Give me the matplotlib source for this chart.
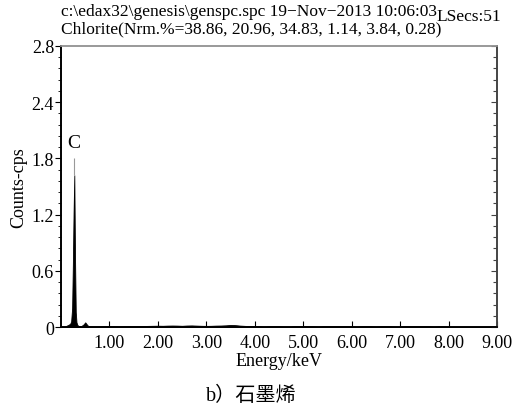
import numpy as np
import matplotlib
matplotlib.use("Agg")
import matplotlib.pyplot as plt
from matplotlib.ticker import MultipleLocator

plt.rcParams['font.family'] = ['Liberation Serif', 'Noto Sans CJK SC']

# spectrum around the carbon peak (keV, cps)
peak_energy = [0.00, 0.08, 0.12, 0.16, 0.19, 0.21, 0.23, 0.245, 0.26, 0.275,
               0.29, 0.305, 0.32, 0.34, 0.37, 0.42, 0.47, 0.50, 0.53, 0.56, 0.59]
peak_counts = [0.00, 0.005, 0.015, 0.025, 0.035, 0.06, 0.20, 0.66, 1.22, 1.62,
               0.74, 0.16, 0.05, 0.02, 0.01, 0.01, 0.03, 0.05, 0.03, 0.012, 0.008]
c_peak_top = 1.80
c_peak_energy = 0.275

# background from 0.6 to 9.0 keV in 0.1 keV steps
bg_counts = [0.006, 0.005, 0.006, 0.008, 0.010, 0.008, 0.006, 0.008, 0.010, 0.008,
             0.010, 0.011, 0.012, 0.013, 0.014, 0.013, 0.015, 0.016, 0.015, 0.013,
             0.016, 0.017, 0.015, 0.013, 0.012, 0.013, 0.015, 0.016, 0.018, 0.022,
             0.020, 0.015, 0.012, 0.010, 0.009, 0.008, 0.000, 0.008, 0.009, 0.008,
             0.000, 0.000, 0.008, 0.009, 0.008, 0.009, 0.008, 0.000, 0.008, 0.009,
             0.009, 0.008, 0.009, 0.008, 0.008, 0.000, 0.008, 0.009, 0.008, 0.000,
             0.008, 0.009, 0.008, 0.000, 0.000, 0.008, 0.009, 0.008, 0.008, 0.009,
             0.008, 0.000, 0.008, 0.006, 0.000, 0.000, 0.000, 0.000, 0.000, 0.000,
             0.000, 0.000, 0.000, 0.000, 0.000]
bg_energy = [0.6 + 0.1 * i for i in range(len(bg_counts))]

x_ticks = [1, 2, 3, 4, 5, 6, 7, 8, 9]
x_labels = ['1.00', '2.00', '3.00', '4.00', '5.00', '6.00', '7.00', '8.00', '9.00']
y_ticks = [0, 0.6, 1.2, 1.8, 2.4, 3.0]
y_labels = ['0', '0.6', '1.2', '1.8', '2.4', '2.8']

energy = np.array(peak_energy + bg_energy)
counts = np.array(peak_counts + bg_counts)

fig = plt.figure(figsize=(5.12, 4.14), dpi=100)
ax = fig.add_axes([0.1191, 0.2077, 0.8516, 0.6788])

ax.fill_between(energy, 0, counts, color='black', linewidth=0.6, edgecolor='black')
ax.vlines(c_peak_energy, peak_counts[9], c_peak_top, color='#999999', linewidth=0.8)
ax.text(c_peak_energy - 0.02, 1.97, 'C', ha='center', va='center', fontsize=14)

ax.set_xlim(0, 9)
ax.set_ylim(0, 3.0)
ax.set_xticks(x_ticks)
ax.set_xticklabels(x_labels, fontsize=13)
ax.set_yticks(y_ticks)
ax.set_yticklabels(y_labels, fontsize=13)
ax.yaxis.set_minor_locator(MultipleLocator(0.12))
ax.tick_params(axis='x', direction='in', length=4, width=0.8, pad=5)
ax.tick_params(axis='y', which='major', direction='out', length=4, width=0.8, pad=1)
ax.tick_params(axis='y', which='minor', direction='out', length=2, width=0.6)

# right-hand scale: inward ticks only
ax_r = ax.twinx()
ax_r.set_ylim(ax.get_ylim())
ax_r.set_yticks(y_ticks)
ax_r.yaxis.set_minor_locator(MultipleLocator(0.12))
ax_r.tick_params(axis='y', which='both', direction='in', labelright=False,
                 color='#444444', width=0.8)
ax_r.tick_params(axis='y', which='major', length=4)
ax_r.tick_params(axis='y', which='minor', length=3)

for a in (ax, ax_r):
    for side, col in [('left', 'black'), ('bottom', 'black'), ('right', '#444444'), ('top', '#999999')]:
        a.spines[side].set_color(col)
        a.spines[side].set_linewidth(1.2)

ax.set_xlabel('Energy/keV', fontsize=13, labelpad=1)
ax.set_ylabel('Counts-cps', fontsize=13, labelpad=3)

fig.text(0.119, 0.970, 'c:\\edax32\\genesis\\genspc.spc 19\u2212Nov\u22122013 10:06:03',
         fontsize=12.5, va='center', ha='left')
fig.text(0.853, 0.960, 'LSecs:51', fontsize=12.5, va='center', ha='left')
fig.text(0.119, 0.928, 'Chlorite(Nrm.%=38.86, 20.96, 34.83, 1.14, 3.84, 0.28)',
         fontsize=12.5, va='center', ha='left')
fig.text(0.49, 0.043, 'b\uff09石墨烯', fontsize=14.5, ha='center', va='center')

fig.savefig('out.png', dpi=100)
